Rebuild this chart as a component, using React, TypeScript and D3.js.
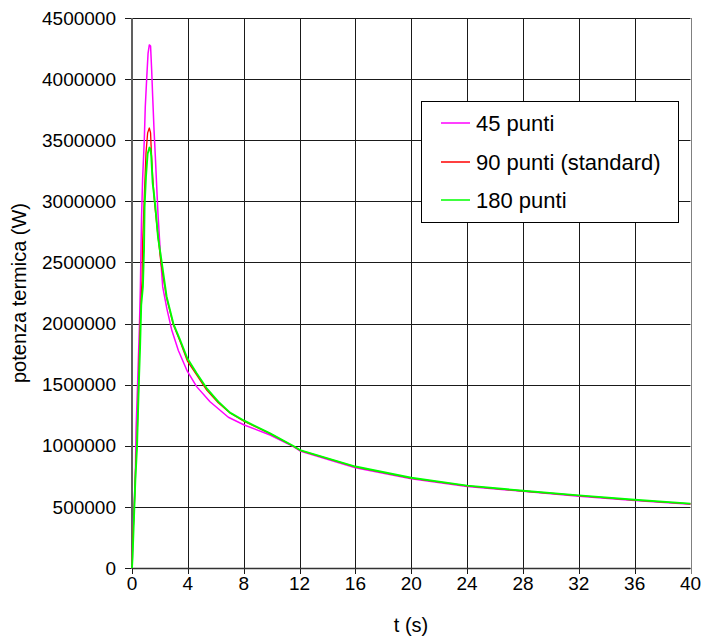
import React from "react";
import * as d3 from "d3";

const xTicks = [0, 4, 8, 12, 16, 20, 24, 28, 32, 36, 40];
const yTicks = [0, 500000, 1000000, 1500000, 2000000, 2500000, 3000000, 3500000, 4000000, 4500000];

const seriesNames = ["45 punti", "90 punti (standard)", "180 punti"];
const seriesColors = ["#ff00ff", "#ff0000", "#00ff00"];
const seriesWidths = [1.5, 1.3, 1.9];

// 45 punti
const t45 = [0, 0.03, 0.1, 0.24, 0.29, 0.41, 0.53, 0.6, 0.68, 0.76, 0.88, 0.95, 1.05, 1.15, 1.24, 1.33, 1.41, 1.48, 1.58, 1.67, 1.77, 1.86, 1.96, 2.08, 2.2, 2.5, 2.84, 3.32, 3.96, 4.63, 5.59, 6.9, 8.04, 9.89, 11.56, 12.03, 16, 20, 24, 28, 32, 36, 40];
const p45 = [0, 100000, 370000, 750000, 1130000, 1540000, 1970000, 2300000, 2850000, 3180000, 3500000, 3770000, 4000000, 4210000, 4280000, 4270000, 4070000, 3860000, 3580000, 3370000, 3120000, 2900000, 2710000, 2490000, 2300000, 2120000, 1950000, 1780000, 1610000, 1484000, 1360000, 1233000, 1170000, 1088000, 993000, 958000, 820000, 730000, 667000, 627000, 588000, 553000, 521000];

// 90 punti (standard)
const t90 = [0, 0.05, 0.15, 0.25, 0.36, 0.45, 0.55, 0.65, 0.72, 0.76, 0.88, 1.0, 1.12, 1.24, 1.33, 1.38, 1.48, 1.62, 1.84, 2.08, 2.48, 2.96, 3.44, 3.96, 4.63, 5.35, 6.18, 7.02, 8.04, 9.89, 11.56, 12.03, 16, 20, 24, 28, 32, 36, 40];
const p90 = [0, 250000, 450000, 800000, 1050000, 1400000, 1850000, 2200000, 2350000, 2660000, 3040000, 3390000, 3560000, 3600000, 3560000, 3420000, 3200000, 2980000, 2740000, 2490000, 2210000, 1990000, 1855000, 1695000, 1580000, 1455000, 1352000, 1268000, 1200000, 1099000, 996000, 963000, 828000, 736000, 672000, 630000, 592000, 556000, 525000];

// 180 punti
const t180 = [0, 0.04, 0.1, 0.24, 0.36, 0.43, 0.5, 0.58, 0.66, 0.78, 0.86, 0.9, 1.0, 1.12, 1.25, 1.32, 1.38, 1.48, 1.67, 1.86, 2.13, 2.48, 2.96, 3.44, 3.96, 4.63, 5.35, 6.18, 7.02, 8.04, 9.89, 11.56, 12.03, 16, 20, 24, 28, 32, 36, 40];
const p180 = [0, 90000, 280000, 720000, 990000, 1270000, 1540000, 1810000, 2150000, 2300000, 2600000, 2950000, 3200000, 3390000, 3440000, 3430000, 3370000, 3150000, 2960000, 2710000, 2500000, 2220000, 2000000, 1866000, 1716000, 1593000, 1470000, 1361000, 1271000, 1205000, 1102000, 998000, 965000, 830000, 738000, 674000, 632000, 594000, 558000, 527000];

const allT = [t45, t90, t180];
const allP = [p45, p90, p180];

const W = 703;
const H = 642;
const left = 132;
const right = 690.5;
const top = 18;
const bottom = 568;
const FONT = "'Liberation Sans', Arial, sans-serif";
const FS = 19;

export default function App() {
  const x = d3.scaleLinear().domain([0, 40]).range([left, right]);
  const y = d3.scaleLinear().domain([0, 4500000]).range([bottom, top]);
  const line = d3
    .line<[number, number]>()
    .x((d) => x(d[0]))
    .y((d) => y(d[1]));

  const legendX = 421;
  const legendY = 101;
  const legendW = 257;
  const legendH = 121;
  const legendRows = [123, 162, 200];

  return (
    <svg
      width={W}
      height={H}
      style={{ position: "absolute", left: 0, top: 0, background: "#fff" }}
      fontFamily={FONT}
    >
      <rect x={0} y={0} width={W} height={H} fill="#fff" />
      {/* grid */}
      {xTicks.map((t) => (
        <line
          key={"gx" + t}
          x1={Math.round(x(t)) + 0.5}
          x2={Math.round(x(t)) + 0.5}
          y1={top}
          y2={bottom + 6}
          stroke={t === 40 ? "#808080" : "#1a1a1a"}
          strokeWidth={1}
        />
      ))}
      {yTicks.map((v) => (
        <line
          key={"gy" + v}
          x1={left - 7}
          x2={right}
          y1={Math.round(y(v)) + 0.5}
          y2={Math.round(y(v)) + 0.5}
          stroke="#1a1a1a"
          strokeWidth={1}
        />
      ))}
      {/* axes */}
      <line x1={left} x2={left} y1={top} y2={bottom + 1} stroke="#606060" strokeWidth={2} />
      <line x1={left} x2={right} y1={bottom + 0.5} y2={bottom + 0.5} stroke="#333" strokeWidth={1.5} />

      {/* series */}
      {allT.map((ts, i) => {
        const pts: [number, number][] = ts.map((t, j) => [t, allP[i][j]]);
        return (
          <path
            key={"s" + i}
            d={line(pts) || ""}
            fill="none"
            stroke={seriesColors[i]}
            strokeWidth={seriesWidths[i]}
            strokeLinejoin="round"
          />
        );
      })}

      {/* tick labels */}
      {yTicks.map((v) => (
        <text
          key={"ly" + v}
          x={116}
          y={y(v)}
          dy="0.35em"
          textAnchor="end"
          fontSize={FS}
          fill="#000"
        >
          {v}
        </text>
      ))}
      {xTicks.map((t) => (
        <text key={"lx" + t} x={x(t)} y={590} textAnchor="middle" fontSize={FS} fill="#000">
          {t}
        </text>
      ))}

      {/* axis titles */}
      <text x={411} y={632} textAnchor="middle" fontSize={FS + 1} fill="#000">
        t (s)
      </text>
      <text
        transform={`translate(26,293) rotate(-90)`}
        textAnchor="middle"
        fontSize={FS + 1}
        fill="#000"
      >
        potenza termica (W)
      </text>

      {/* legend */}
      <rect
        x={legendX + 0.5}
        y={legendY + 0.5}
        width={legendW}
        height={legendH}
        fill="#fff"
        stroke="#000"
        strokeWidth={1}
      />
      {seriesNames.map((n, i) => (
        <g key={"lg" + i}>
          <line
            x1={441}
            x2={470}
            y1={legendRows[i]}
            y2={legendRows[i]}
            stroke={seriesColors[i]}
            strokeWidth={1.5}
          />
          <text x={476} y={legendRows[i]} dy="0.35em" fontSize={22} fill="#000">
            {n}
          </text>
        </g>
      ))}
    </svg>
  );
}
